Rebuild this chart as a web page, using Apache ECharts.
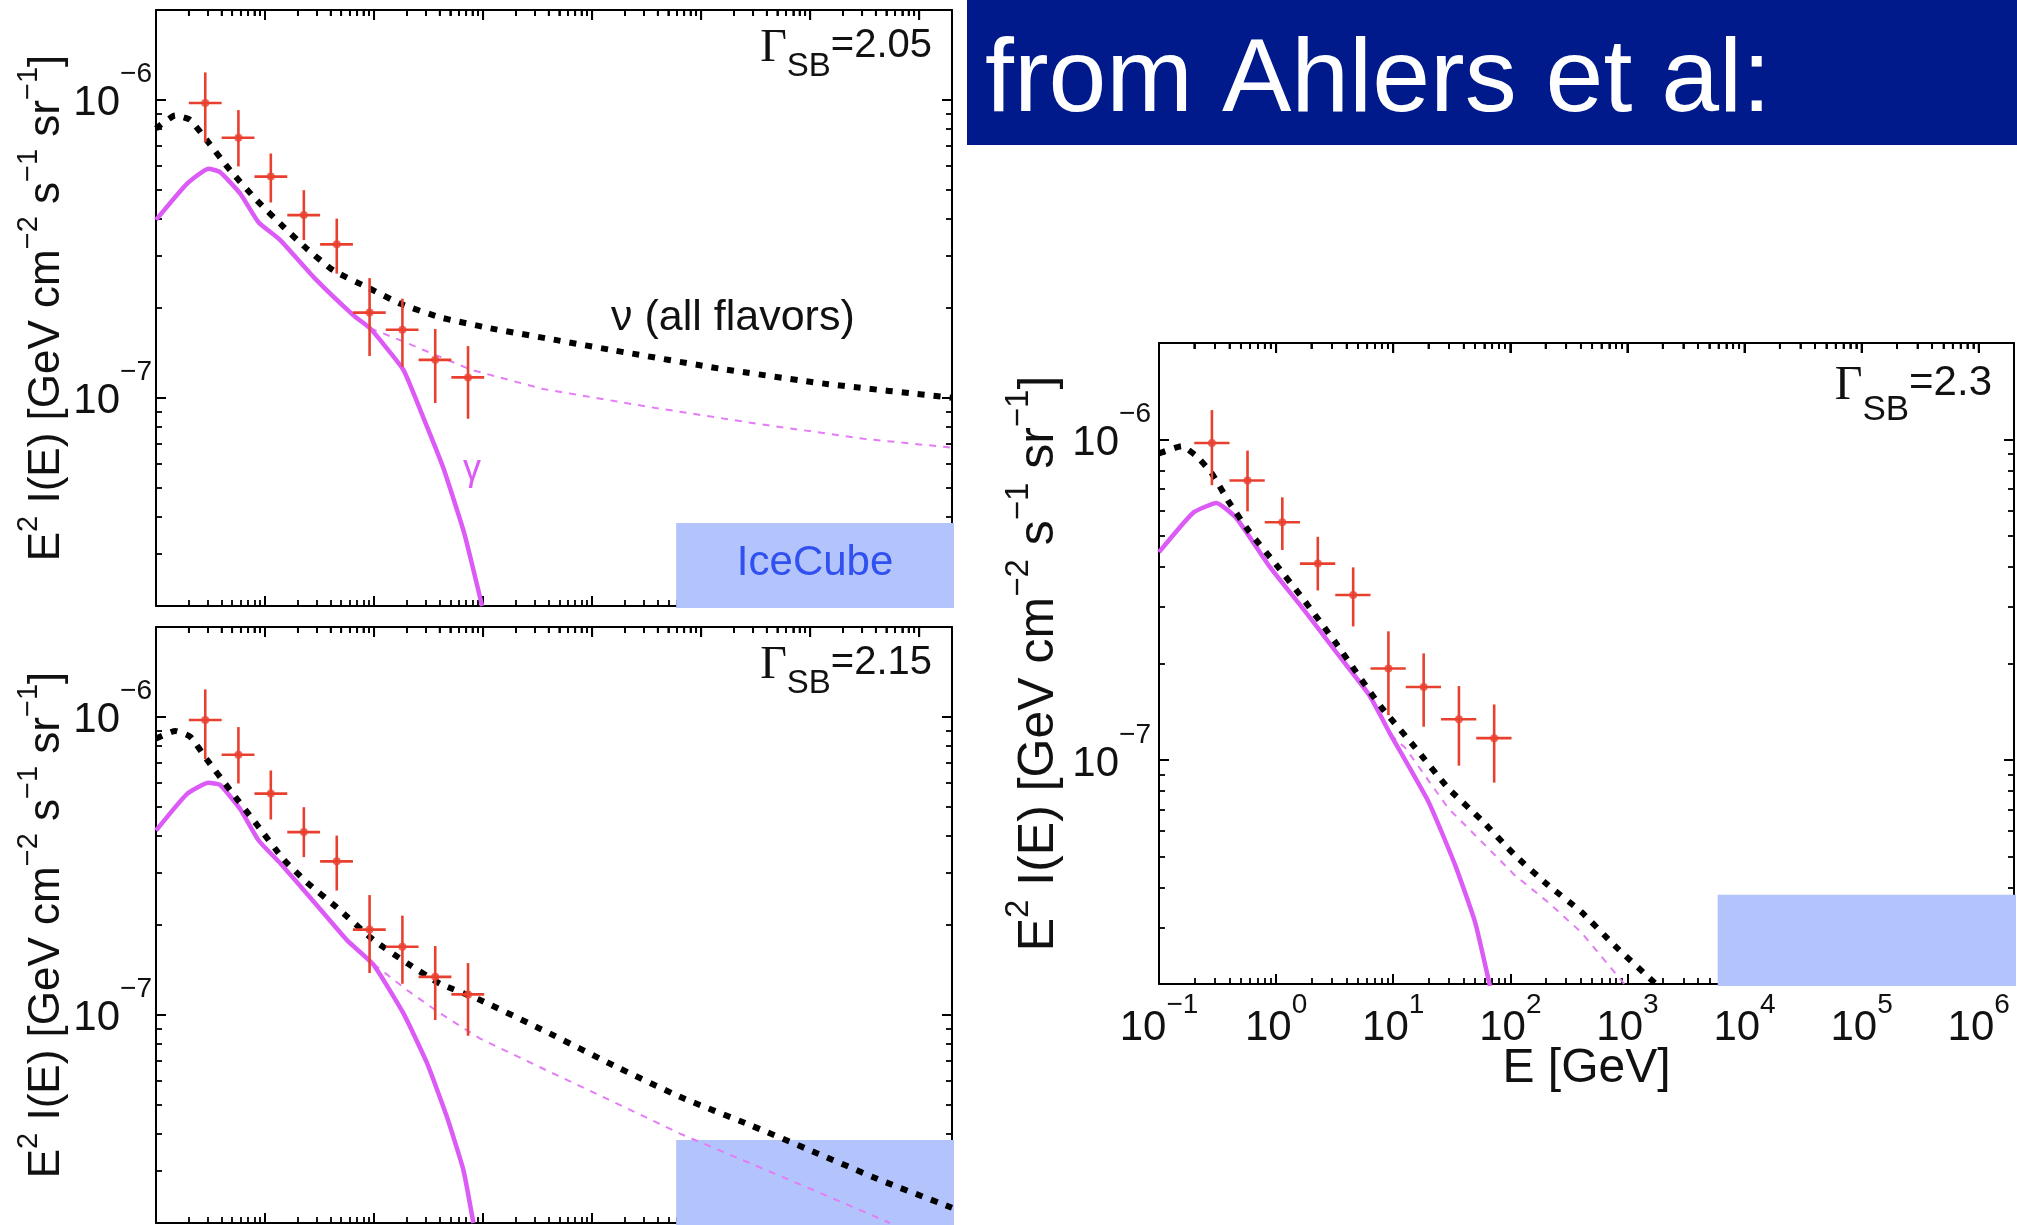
<!DOCTYPE html>
<html><head><meta charset="utf-8">
<script src="https://cdn.jsdelivr.net/npm/echarts@6/dist/echarts.min.js"></script>
<style>html,body{margin:0;padding:0;background:#fff}#c{width:2017px;height:1225px}</style>
</head><body><div id="c"></div>
<script>
// ---------- data ----------
const xDecades = [-1, 0, 1, 2, 3, 4, 5, 6];
const yDecades = [-8, -7, -6];
const xRange = [0.1, 2e6];
const yRange = [2e-8, 2e-6];

// Fermi diffuse data points (same in all panels)
const fermiE   = [0.283, 0.57, 1.13, 2.27, 4.55, 9.1, 18.2, 36.4, 72.8];
const fermiELo = [0.2, 0.4, 0.8, 1.6, 3.2, 6.4, 12.8, 25.6, 51.2];
const fermiEHi = [0.4, 0.8, 1.6, 3.2, 6.4, 12.8, 25.6, 51.2, 102.4];
const fermiF   = [9.75e-7, 7.45e-7, 5.52e-7, 4.1e-7, 3.27e-7, 1.93e-7, 1.69e-7, 1.34e-7, 1.17e-7];
const fermiFLo = [7.2e-7, 5.97e-7, 4.52e-7, 3.38e-7, 2.61e-7, 1.38e-7, 1.27e-7, 9.6e-8, 8.5e-8];
const fermiFHi = [1.235e-6, 9.23e-7, 6.6e-7, 4.97e-7, 3.99e-7, 2.52e-7, 2.15e-7, 1.7e-7, 1.49e-7];

// IceCube box
const iceCubeE = [5.9e3, 2e6];
const iceCubeF = [2e-8, 3.8e-8];

// Gamma_SB = 2.05
const nuA = [[0.1,8.0e-7],[0.15,8.85e-7],[0.206,8.55e-7],[0.293,7.3e-7],[0.48,5.79e-7],[0.843,4.59e-7],[1.48,3.74e-7],[2.42,3.16e-7],[4.25,2.67e-7],[8.59,2.35e-7],[17.3,2.07e-7],[40.4,1.86e-7],[116,1.71e-7],[473,1.56e-7],[1600,1.44e-7],[15300,1.25e-7],[147000,1.11e-7],[2e6,1.0e-7]];
const gamA = [[0.1,3.95e-7],[0.192,5.22e-7],[0.303,5.87e-7],[0.388,5.71e-7],[0.593,4.84e-7],[0.871,3.88e-7],[1.38,3.38e-7],[2.79,2.54e-7],[6.48,1.89e-7],[9.2,1.71e-7],[11.4,1.56e-7],[18.6,1.24e-7],[27.2,8.9e-8],[42.9,5.85e-8],[67.3,3.5e-8],[98,2.0e-8]];
const gamDashA = [[9.2,1.71e-7],[17.3,1.56e-7],[78,1.24e-7],[354,1.07e-7],[3400,9.3e-8],[32500,8.18e-8],[310000,7.28e-8],[2e6,6.8e-8]];

// Gamma_SB = 2.15
const nuB = [[0.1,8.45e-7],[0.15,8.96e-7],[0.206,8.57e-7],[0.293,7.18e-7],[0.48,5.66e-7],[0.843,4.34e-7],[1.48,3.32e-7],[2.42,2.78e-7],[4.56,2.29e-7],[9.9,1.78e-7],[20,1.49e-7],[40.4,1.27e-7],[94,1.12e-7],[384,8.75e-8],[1570,6.76e-8],[6400,5.3e-8],[26100,4.31e-8],[107000,3.47e-8],[435000,2.79e-8],[2e6,2.25e-8]];
const gamB = [[0.1,4.15e-7],[0.192,5.5e-7],[0.303,6.0e-7],[0.388,5.9e-7],[0.593,4.89e-7],[0.871,3.85e-7],[1.38,3.22e-7],[2.79,2.4e-7],[5.64,1.78e-7],[9.9,1.47e-7],[18.6,1.01e-7],[30.5,6.9e-8],[46.4,4.56e-8],[66,3.01e-8],[81.5,2.0e-8]];
const gamDashB = [[9.9,1.48e-7],[20,1.21e-7],[40.4,1.01e-7],[94,8.31e-8],[384,6.5e-8],[1570,5.1e-8],[6400,3.99e-8],[26100,3.21e-8],[107000,2.58e-8],[540000,2.0e-8]];

// Gamma_SB = 2.3
const nuC = [[0.1,9.05e-7],[0.156,9.53e-7],[0.209,8.87e-7],[0.28,7.87e-7],[0.4,6.34e-7],[0.59,5.16e-7],[1.0,4.07e-7],[1.68,3.2e-7],[3.23,2.32e-7],[6.2,1.65e-7],[8.05,1.45e-7],[15.5,1.09e-7],[29.6,8.15e-8],[56.9,6.49e-8],[109,5.05e-8],[210,4.07e-8],[403,3.36e-8],[774,2.64e-8],[1750,2.0e-8]];
const gamC = [[0.1,4.45e-7],[0.195,5.9e-7],[0.309,6.34e-7],[0.457,5.69e-7],[0.877,4.02e-7],[1.68,2.98e-7],[3.23,2.18e-7],[6.2,1.6e-7],[9.5,1.2e-7],[20,7.41e-8],[33.8,4.7e-8],[50,3.12e-8],[67,1.97e-8]];
const gamDashC = [[9.5,1.2e-7],[12.7,1.09e-7],[29.6,7.06e-8],[56.9,5.56e-8],[109,4.37e-8],[210,3.6e-8],[403,2.9e-8],[942,2.0e-8]];

const gammaSB = ['2.05', '2.15', '2.3'];
const iceLabels = ['IceCube', '', ''];
const xTitle = 'E [GeV]';
const bannerText = 'from Ahlers et al:';

// ---------- layout / style ----------
const FONT = "'Liberation Sans', Arial, Helvetica, sans-serif";
const SERIF = "'Liberation Serif', 'Times New Roman', serif";
const RED = '#e8402f', MAG = '#dc5af5', MAGD = '#e47cf6', BOX = '#b3c3fb';
const layout = [
  {left:156, top:10, width:796, height:596, yMargin:4, yFont:44, ySup:29, ySupPad:36, yGap:87, showX:false},
  {left:156, top:627, width:796, height:596, yMargin:4, yFont:44, ySup:29, ySupPad:36, yGap:87, showX:false},
  {left:1159, top:343, width:859, height:641, yMargin:8, yFont:50, ySup:33, ySupPad:40, yGap:95, showX:true}
];
const curves = [[nuA, gamA, gamDashA], [nuB, gamB, gamDashB], [nuC, gamC, gamDashC]];

function powFmt(v) {
  const l = Math.log10(v), e = Math.round(l);
  if (Math.abs(l - e) > 1e-6) return '';
  return '{b|10}{s|' + (e < 0 ? '\u2212' + (-e) : String(e)) + '}';
}
const xLabelRich = {
  b: {fontFamily: FONT, fontSize: 42, lineHeight: 42, color: '#111', verticalAlign: 'middle'},
  s: {fontFamily: FONT, fontSize: 28, lineHeight: 28, color: '#111', verticalAlign: 'middle', padding: [0, 0, 46, 0]}
};
const yLabelRich = {
  b: {fontFamily: FONT, fontSize: 42, lineHeight: 42, color: '#111', verticalAlign: 'middle', padding: [8, 0, 0, 0]},
  s: {fontFamily: FONT, fontSize: 28, lineHeight: 28, color: '#111', verticalAlign: 'middle', padding: [0, 0, 50, 0]}
};

const xLogMax = Math.log10(xRange[1]), xLogMin = Math.log10(xRange[0]);
const yLogMax = Math.log10(yRange[1]), yLogMin = Math.log10(yRange[0]);
const xMinor = [], yMinor = [], xTopMajor = [], xTopMinor = [];
xDecades.forEach(n => {
  xTopMajor.push(Math.pow(10, n));
  for (let k = 2; k <= 9; k++) {
    const v = n + Math.log10(k);
    if (v <= xLogMax + 1e-9) { xMinor.push(v); xTopMinor.push(k * Math.pow(10, n)); }
  }
});
yDecades.forEach(n => { for (let k = 2; k <= 9; k++) { const v = n + Math.log10(k); if (v >= yLogMin - 1e-9 && v <= yLogMax + 1e-9) yMinor.push(v); } });

const axLine = () => ({show: true, onZero: false, lineStyle: {color: '#000', width: 2}});
const majorTick = () => ({show: true, inside: true, length: 10, lineStyle: {color: '#000', width: 2}});
const minorTick = (vals) => ({show: true, inside: true, length: 6, customValues: vals, lineStyle: {color: '#000', width: 1.8}});
const xAxes = [], yAxes = [], grids = [], series = [];

function topTickSeries(xi, yi, values, len, width) {
  return {type: 'custom', xAxisIndex: xi, yAxisIndex: yi, z: 8, clip: false, silent: true,
    encode: {x: 0, y: 1},
    data: values.map(v => [v, yRange[1]]),
    renderItem: (params, api) => {
      const p = api.coord([api.value(0), api.value(1)]);
      return {type: 'line', shape: {x1: p[0], y1: p[1], x2: p[0], y2: p[1] + len}, style: {stroke: '#000', lineWidth: width}};
    }};
}

layout.forEach((L, i) => {
  grids.push({left: L.left, top: L.top, width: L.width, height: L.height});
  // x axes: 0 bottom log (data), 1 top log, 2 bottom minor, 3 top minor
  xAxes.push({type: 'log', logBase: 10, gridIndex: i, position: 'bottom', min: xRange[0], max: xRange[1], splitNumber: 8,
    axisLine: axLine(), axisTick: majorTick(), splitLine: {show: false},
    axisLabel: {show: L.showX, formatter: powFmt, rich: xLabelRich, margin: 23},
    name: L.showX ? xTitle : '', nameLocation: 'middle', nameGap: 61, nameMoveOverlap: false,
    nameTextStyle: {fontFamily: FONT, fontSize: 48, lineHeight: 48, color: '#111'}});
  xAxes.push({type: 'log', logBase: 10, gridIndex: i, position: 'top', min: xRange[0], max: xRange[1], splitNumber: 8,
    axisLine: axLine(), axisTick: majorTick(), splitLine: {show: false}, axisLabel: {show: false}});
  ['bottom', 'top'].forEach(p => xAxes.push({type: 'value', gridIndex: i, position: p, min: xLogMin, max: xLogMax,
    axisLine: {show: false, onZero: false}, splitLine: {show: false}, axisLabel: {show: false},
    axisTick: minorTick(xMinor)}));
  // y axes
  const yName = '{t|E}{s|2}{t| I(E) [GeV cm}{s|\u22122}{t| s}{s|\u22121}{t| sr}{s|\u22121}{t|]}';
  yAxes.push({type: 'log', logBase: 10, gridIndex: i, position: 'left', min: yRange[0], max: yRange[1], splitNumber: 5,
    axisLine: axLine(), axisTick: majorTick(), splitLine: {show: false},
    axisLabel: {show: true, formatter: powFmt, rich: yLabelRich, margin: L.yMargin},
    name: yName, nameLocation: 'middle', nameRotate: 90, nameGap: L.yGap, nameMoveOverlap: false,
    nameTextStyle: {rich: {
      t: {fontFamily: FONT, fontSize: L.yFont, lineHeight: L.yFont, color: '#111', verticalAlign: 'middle'},
      s: {fontFamily: FONT, fontSize: L.ySup, lineHeight: L.ySup, color: '#111', verticalAlign: 'middle', padding: [0, 0, L.ySupPad, 0]}
    }}});
  yAxes.push({type: 'log', logBase: 10, gridIndex: i, position: 'right', min: yRange[0], max: yRange[1], splitNumber: 5,
    axisLine: axLine(), axisTick: majorTick(), splitLine: {show: false}, axisLabel: {show: false}});
  ['left', 'right'].forEach(p => yAxes.push({type: 'value', gridIndex: i, position: p, min: yLogMin, max: yLogMax,
    axisLine: {show: false, onZero: false}, splitLine: {show: false}, axisLabel: {show: false},
    axisTick: minorTick(yMinor)}));

  const xi = i * 4, yi = i * 4;
  // IceCube box
  series.push({type: 'custom', xAxisIndex: xi, yAxisIndex: yi, z: 3, clip: false, silent: true,
    encode: {x: [0, 1], y: [2, 3]},
    data: [[iceCubeE[0], iceCubeE[1], iceCubeF[0], iceCubeF[1]]],
    renderItem: (params, api) => {
      const p0 = api.coord([api.value(0), api.value(3)]);
      const p1 = api.coord([api.value(1), api.value(2)]);
      const children = [{type: 'rect', shape: {x: p0[0], y: p0[1], width: p1[0] - p0[0] + 2, height: p1[1] - p0[1] + 2}, style: {fill: BOX}}];
      if (iceLabels[i]) children.push({type: 'text', style: {text: iceLabels[i], x: (p0[0] + p1[0]) / 2 + 1, y: (p0[1] + p1[1]) / 2 - 1,
        align: 'center', verticalAlign: 'middle', textAlign: 'center', textVerticalAlign: 'middle',
        fontFamily: FONT, fontSize: 42, fill: '#3050f0'}});
      return {type: 'group', children};
    }});
  const [nu, gam, gamDash] = curves[i];
  series.push({type: 'line', xAxisIndex: xi, yAxisIndex: yi, z: 4, data: gamDash, showSymbol: false, silent: true,
    lineStyle: {color: MAGD, width: 2, type: [7, 7]}});
  series.push({type: 'line', xAxisIndex: xi, yAxisIndex: yi, z: 4, data: gam, showSymbol: false, silent: true, smooth: 0.15,
    lineStyle: {color: MAG, width: 4.5}});
  series.push({type: 'line', xAxisIndex: xi, yAxisIndex: yi, z: 5, data: nu, showSymbol: false, silent: true, smooth: 0.15,
    lineStyle: {color: '#000', width: 6, type: [7, 9], cap: 'butt'}});
  // error bars
  series.push({type: 'custom', xAxisIndex: xi, yAxisIndex: yi, z: 6, silent: true,
    encode: {x: [0, 2, 3], y: [1, 4, 5]},
    data: fermiE.map((e, k) => [e, fermiF[k], fermiELo[k], fermiEHi[k], fermiFLo[k], fermiFHi[k]]),
    renderItem: (params, api) => {
      const e = api.value(0), f = api.value(1);
      const l = api.coord([api.value(2), f]), r = api.coord([api.value(3), f]);
      const b = api.coord([e, api.value(4)]), t = api.coord([e, api.value(5)]);
      const st = {stroke: RED, lineWidth: 2.6};
      return {type: 'group', children: [
        {type: 'line', shape: {x1: l[0], y1: l[1], x2: r[0], y2: r[1]}, style: st},
        {type: 'line', shape: {x1: b[0], y1: b[1], x2: t[0], y2: t[1]}, style: st}
      ]};
    }});
  series.push({type: 'scatter', xAxisIndex: xi, yAxisIndex: yi, z: 7, silent: true, symbol: 'circle', symbolSize: 8,
    itemStyle: {color: RED}, data: fermiE.map((e, k) => [e, fermiF[k]])});
  // tick marks along the top frame edge (placed via the axis scale)
  series.push(topTickSeries(xi, yi, xTopMajor, 10, 2));
  series.push(topTickSeries(xi, yi, xTopMinor, 6, 1.8));
});

function gammaLabel(txt, x, y, big, small, pad) {
  return {type: 'text', x: x, y: y, z: 20, style: {
    text: '{g|\u0393}{u|SB}{t|=' + txt + '}', align: 'right', verticalAlign: 'top', textAlign: 'right', textVerticalAlign: 'top',
    rich: {
      g: {fontFamily: SERIF, fontSize: big + 6, lineHeight: big, verticalAlign: 'top', fill: '#111', color: '#111'},
      u: {fontFamily: FONT, fontSize: small, lineHeight: small, verticalAlign: 'top', padding: [pad, 0, 0, 0], fill: '#111', color: '#111'},
      t: {fontFamily: FONT, fontSize: big, lineHeight: big, verticalAlign: 'top', fill: '#111', color: '#111'}
    }}};
}

const graphic = [
  {type: 'rect', x: 967, y: 0, z: 20, shape: {x: 0, y: 0, width: 1050, height: 145}, style: {fill: '#001a8c'}},
  {type: 'text', x: 985, y: 82, z: 21, style: {text: bannerText, fontFamily: FONT, fontSize: 104, fill: '#ffffff',
    align: 'left', verticalAlign: 'middle', textAlign: 'left', textVerticalAlign: 'middle'}},
  gammaLabel(gammaSB[0], 932, 26, 40, 33, 24),
  gammaLabel(gammaSB[1], 932, 643, 40, 33, 24),
  gammaLabel(gammaSB[2], 1992, 362, 42, 35, 31),
  {type: 'text', x: 611, y: 318, z: 20, style: {text: '\u03bd (all flavors)', fontFamily: FONT, fontSize: 43, fill: '#111',
    align: 'left', verticalAlign: 'middle', textAlign: 'left', textVerticalAlign: 'middle'}},
  {type: 'text', x: 472, y: 470, z: 20, style: {text: '\u03b3', fontFamily: FONT, fontSize: 36, fill: MAG,
    align: 'center', verticalAlign: 'middle', textAlign: 'center', textVerticalAlign: 'middle'}}
];

const chart = echarts.init(document.getElementById('c'), null, {renderer: 'canvas'});
chart.setOption({
  animation: false,
  backgroundColor: '#ffffff',
  grid: grids,
  xAxis: xAxes,
  yAxis: yAxes,
  series: series,
  graphic: graphic
});
</script>
</body></html>
